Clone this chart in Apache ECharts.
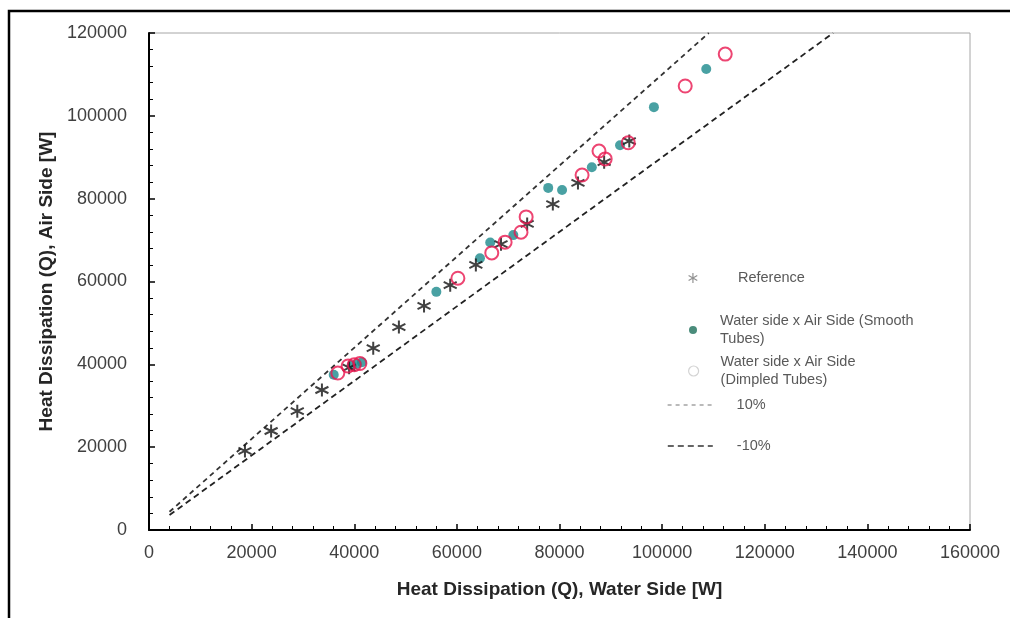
<!DOCTYPE html>
<html><head><meta charset="utf-8">
<script src="https://cdn.jsdelivr.net/npm/echarts@6/dist/echarts.min.js"></script>
<style>html,body{margin:0;padding:0;background:#fff}#c{width:1010px;height:618px}</style>
</head><body><div id="c"></div>
<script>
// ---- data ----
const referenceData = [[18700,19100],[23800,23900],[28900,28700],[33700,33800],[39000,39200],[43700,43900],[48700,49000],[53600,54100],[58700,59100],[63700,64000],[68600,69000],[73700,73900],[78700,78700],[83600,83800],[88700,88800],[93600,93900]];
const smoothData = [[36000,37500],[39500,39700],[40500,40100],[41500,40500],[56000,57500],[64500,65600],[66500,69400],[71000,71200],[77800,82600],[80500,82100],[86300,87600],[91800,92900],[98400,102100],[108600,111300]];
const dimpledData = [[36800,37900],[38800,39600],[40000,39900],[41100,40200],[60200,60800],[66800,66900],[69400,69500],[72500,71900],[73500,75600],[84400,85700],[87700,91500],[88900,89600],[93400,93500],[104500,107200],[112300,114900]];
const plus10Line = [[4000,4400],[109091,120000]];
const minus10Line = [[4000,3600],[133333,120000]];
const seriesNames = ['Reference','Water side x Air Side (Smooth Tubes)','Water side x Air Side (Dimpled Tubes)','10%','-10%'];
const legendLabels = ['Reference','Water side x Air Side (Smooth\nTubes)','Water side x Air Side\n(Dimpled Tubes)','10%','-10%'];
const xAxisTitle = 'Heat Dissipation (Q), Water Side [W]';
const yAxisTitle = 'Heat Dissipation (Q), Air Side [W]';

const FONT = 'Liberation Sans';
const asterisk = 'path://M5,0L5,10M0.67,2.5L9.33,7.5M0.67,7.5L9.33,2.5';
const chart = echarts.init(document.getElementById('c'), null, {renderer:'canvas'});
const legTxt = {color:'#595959', fontSize:14.5, fontFamily:FONT, lineHeight:18};
function leg(name, left, top, w, h, pad, extra){
  return Object.assign({
    data:[name], left:left, top:top, itemWidth:w, itemHeight:h, padding:0,
    orient:'vertical', selectedMode:false,
    formatter: n => legendLabels[seriesNames.indexOf(n)],
    textStyle: Object.assign({}, legTxt, {padding:pad})
  }, extra||{});
}
const axisCommon = {
  type:'value', min:0, interval:20000,
  axisLine:{show:true, onZero:false, lineStyle:{color:'#000', width:2}},
  axisTick:{show:true, inside:true, length:6, lineStyle:{color:'#000', width:1.5}},
  minorTick:{show:true, splitNumber:5, length:4, lineStyle:{color:'#000', width:1}},
  splitLine:{show:false},
  nameLocation:'middle',
  nameTextStyle:{color:'#262626', fontSize:19, fontWeight:'bold', fontFamily:FONT}
};
const lab = {color:'#404040', fontSize:18, fontFamily:FONT, formatter: v => String(v)};
chart.setOption({
  animation:false,
  backgroundColor:'#fff',
  grid:{left:149, right:40, top:33, bottom:88, show:true, borderColor:'#a6a6a6', borderWidth:1},
  xAxis:Object.assign({}, axisCommon, {max:160000, name:xAxisTitle, nameGap:50,
    axisLabel:Object.assign({margin:14}, lab)}),
  yAxis:Object.assign({}, axisCommon, {max:120000, name:yAxisTitle, nameGap:86,
    axisLabel:Object.assign({margin:22}, lab)}),
  legend:[
    leg(seriesNames[0], 688, 269, 10, 10, [0,0,0,35], {itemStyle:{color:'#888', borderColor:'#777', borderWidth:1.2}}),
    leg(seriesNames[1], 689, 303, 8, 8, [18,0,0,18], {itemStyle:{color:'#1d6f5a', borderWidth:0}}),
    leg(seriesNames[2], 688, 344, 10, 10, [18,0,0,17], {itemStyle:{color:'#fff', borderColor:'#c8c8c8', borderWidth:1.2}}),
    leg(seriesNames[3], 667, 396, 45, 10, [0,0,0,19], {lineStyle:{color:'#777', width:1.2, type:[4,4]}, itemStyle:{opacity:0}}),
    leg(seriesNames[4], 667, 437, 45, 10, [0,0,0,19], {lineStyle:{color:'#333', width:1.6, type:[6,4]}, itemStyle:{opacity:0}})
  ],
  graphic:[{type:'rect', shape:{x:9, y:11, width:1020, height:620}, style:{fill:'none', stroke:'#000', lineWidth:2.5}, silent:true}],
  series:[
    {name:seriesNames[3], type:'line', data:plus10Line, symbol:'none', showSymbol:false, z:1,
      lineStyle:{color:'#333', width:1.8, type:[5,4]}},
    {name:seriesNames[4], type:'line', data:minus10Line, symbol:'none', showSymbol:false, z:1,
      lineStyle:{color:'#222', width:1.8, type:[6,4]}},
    {name:seriesNames[1], type:'scatter', data:smoothData, symbol:'circle', symbolSize:10, z:2,
      itemStyle:{color:'#1b8a8c'}},
    {name:seriesNames[0], type:'scatter', data:referenceData, symbol:asterisk, symbolSize:13, z:3,
      itemStyle:{color:'#111', borderColor:'#111', borderWidth:2}},
    {name:seriesNames[2], type:'scatter', data:dimpledData, symbol:'circle', symbolSize:13, z:4,
      itemStyle:{color:'rgba(255,255,255,0)', borderColor:'#e8174f', borderWidth:2}}
  ]
});
</script></body></html>
